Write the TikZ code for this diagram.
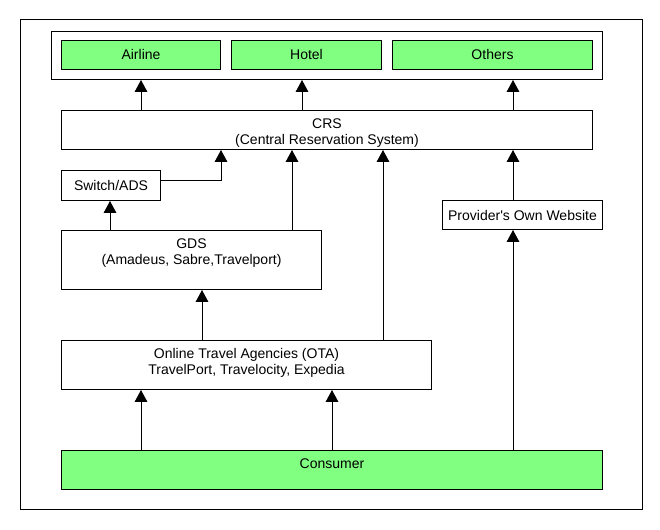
\documentclass[tikz,border=0pt]{standalone}
\usepackage{fontspec}
\setmainfont{Liberation Sans}
\usetikzlibrary{arrows.meta}
\usetikzlibrary{positioning}
\definecolor{boxgreen}{HTML}{80FF80}
\tikzstyle{block} = [rectangle, draw=black, line width=0.75pt, inner sep=0pt, anchor=north west, text centered, align=center, font=\fontsize{10.5}{12}\selectfont]
\tikzstyle{greenblock} = [block, fill=boxgreen]
\tikzstyle{link} = [draw=black, line width=0.75pt, -{Triangle[length=9pt,width=9.5pt]}]

\begin{document}
\begin{tikzpicture}[x=0.75pt,y=-0.75pt]
  \useasboundingbox (0,0) rectangle (660,530);
  \draw[line width=0.75pt] (20,20) rectangle (642,509);

  % suppliers
  \node (suppliers) [block, minimum width=413.25pt, minimum height=36pt] at (51,31) {};
  \node (airline) [greenblock, minimum width=119.25pt, minimum height=21.75pt] at (61,40) {Airline};
  \node (hotel) [greenblock, minimum width=112.5pt, minimum height=21.75pt] at (231,40) {Hotel};
  \node (others) [greenblock, minimum width=150pt, minimum height=21.75pt] at (392,40) {Others};

  \node (crs) [block, minimum width=398.25pt, minimum height=29.25pt] at (61,110) {\rule{0pt}{12pt}CRS\\(Central Reservation System)};
  \node (switch) [block, minimum width=74.25pt, minimum height=22.5pt] at (61,170) {Switch/ADS};
  \node (website) [block, minimum width=120pt, minimum height=21.75pt] at (442,200) {Provider\textquotesingle s Own Website};
  \node (gds) [block, minimum width=195pt, minimum height=44.25pt] at (61,230) {\rule{0pt}{10.5pt}GDS\\(Amadeus, Sabre,Travelport)\\\strut};
  \node (ota) [block, minimum width=277.5pt, minimum height=36.75pt] at (61,340) {Online Travel Agencies (OTA)\\TravelPort, Travelocity, Expedia\rule[-5pt]{0pt}{0pt}};
  \node (consumer) [greenblock, minimum width=405.75pt, minimum height=29.25pt] at (61,450) {\rule{0pt}{13.5pt}Consumer\\\strut};

  % columns of the connectors
  \coordinate (x1) at (110,0);
  \coordinate (x2) at (141,0);
  \coordinate (x3) at (202,0);
  \coordinate (x4) at (221,0);
  \coordinate (x5) at (292,0);
  \coordinate (x6) at (302,0);
  \coordinate (x7) at (332,0);
  \coordinate (x8) at (383,0);
  \coordinate (x9) at (513,0);

  \draw[link] (crs.north -| x2) -- (suppliers.south -| x2);
  \draw[link] (crs.north -| x6) -- (suppliers.south -| x6);
  \draw[link] (crs.north -| x9) -- (suppliers.south -| x9);
  \draw[link] ([yshift=3.75pt]switch.east) -| (crs.south -| x4);
  \draw[link] (gds.north -| x1) -- (switch.south -| x1);
  \draw[link] (gds.north -| x5) -- (crs.south -| x5);
  \draw[link] (website.north -| x9) -- (crs.south -| x9);
  \draw[link] (ota.north -| x3) -- (gds.south -| x3);
  \draw[link] (ota.north -| x8) -- (crs.south -| x8);
  \draw[link] (consumer.north -| x2) -- (ota.south -| x2);
  \draw[link] (consumer.north -| x7) -- (ota.south -| x7);
  \draw[link] (consumer.north -| x9) -- (website.south -| x9);
\end{tikzpicture}
\end{document}
